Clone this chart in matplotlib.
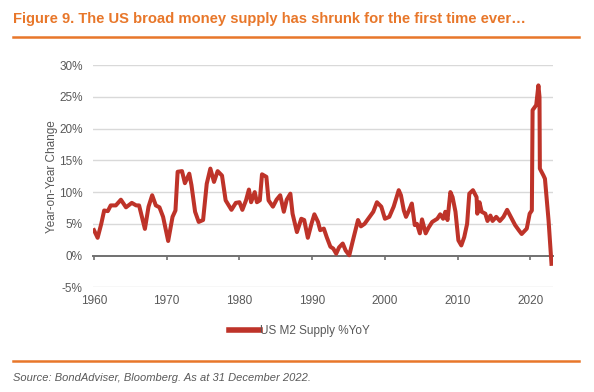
import matplotlib.pyplot as plt

plt.rcParams['font.family'] = ['Liberation Sans', 'DejaVu Sans']

# Data (decimal year, % YoY)
years = [
    1960.0, 1960.5, 1961.0, 1961.4, 1961.9, 1962.3, 1963.0, 1963.7, 1964.4, 1965.2,
    1965.8, 1966.2, 1966.7, 1967.0, 1967.5, 1968.0, 1968.5, 1969.0, 1969.5, 1970.2,
    1970.8, 1971.2, 1971.5, 1972.1, 1972.5, 1973.1, 1973.4, 1973.9, 1974.4, 1975.0,
    1975.5, 1976.0, 1976.5, 1977.0, 1977.6, 1978.1, 1978.9, 1979.5, 1980.0, 1980.4,
    1980.9, 1981.3, 1981.6, 1982.1, 1982.4, 1982.8, 1983.1, 1983.7, 1984.0, 1984.6,
    1985.1, 1985.6, 1986.1, 1986.5, 1987.0, 1987.3, 1987.9, 1988.5, 1988.9, 1989.4,
    1989.9, 1990.3, 1990.8, 1991.1, 1991.6, 1992.0, 1992.5, 1992.9, 1993.3, 1993.7,
    1994.2, 1994.6, 1995.1, 1995.6, 1996.3, 1996.7, 1997.2, 1997.7, 1998.4, 1998.9,
    1999.5, 2000.0, 2000.6, 2001.2, 2001.6, 2001.9, 2002.2, 2002.6, 2002.9, 2003.3,
    2003.7, 2004.1, 2004.4, 2004.8, 2005.1, 2005.6, 2006.0, 2006.5, 2007.2, 2007.6,
    2008.0, 2008.3, 2008.6, 2009.0, 2009.3, 2009.7, 2010.1, 2010.5, 2010.9, 2011.3,
    2011.6, 2012.1, 2012.6, 2012.7, 2013.0, 2013.3, 2013.8, 2014.1, 2014.5, 2014.8,
    2015.3, 2015.8, 2016.3, 2016.8, 2017.3, 2017.9, 2018.4, 2018.8, 2019.5, 2019.9,
    2020.2, 2020.3, 2020.8, 2021.1, 2021.25, 2021.3, 2021.8, 2022.0, 2022.5, 2022.9,
]
m2_yoy = [
    4.0, 2.8, 5.0, 7.1, 7.0, 7.9, 7.9, 8.8, 7.6, 8.3,
    7.9, 7.9, 5.6, 4.2, 7.7, 9.5, 7.9, 7.6, 6.1, 2.3,
    6.1, 7.1, 13.2, 13.3, 11.4, 12.9, 11.1, 6.9, 5.3, 5.6,
    11.3, 13.7, 11.6, 13.3, 12.6, 8.7, 7.2, 8.3, 8.4, 7.2,
    8.7, 10.4, 8.4, 10.0, 8.4, 8.7, 12.8, 12.4, 8.7, 7.7,
    8.8, 9.5, 6.9, 8.8, 9.75, 6.6, 3.7, 5.8, 5.6, 2.8,
    5.0, 6.5, 5.3, 4.0, 4.25, 2.9, 1.4, 1.1, 0.3, 1.3,
    1.9, 0.8, 0.05, 2.4, 5.6, 4.6, 5.0, 5.8, 6.9, 8.4,
    7.7, 5.8, 6.1, 7.7, 9.2, 10.3, 9.5, 7.1, 6.1, 7.1,
    8.2, 4.8, 5.0, 3.5, 5.7, 3.5, 4.4, 5.3, 5.8, 6.5,
    5.8, 6.9, 5.6, 10.0, 9.2, 6.9, 2.4, 1.6, 2.9, 5.0,
    9.75, 10.3, 9.2, 6.6, 8.4, 6.9, 6.6, 5.45, 6.3, 5.45,
    6.1, 5.45, 6.1, 7.2, 6.1, 4.8, 4.0, 3.4, 4.25, 6.6,
    7.1, 22.9, 23.7, 26.8, 25.0, 13.7, 12.6, 12.1, 5.5, -1.3,
]
year_ticks = [1960, 1970, 1980, 1990, 2000, 2010, 2020]
pct_ticks = [-5, 0, 5, 10, 15, 20, 25, 30]

orange = '#E8772A'
grey = '#595959'
red = '#BE3329'

fig = plt.figure(figsize=(5.94, 3.92), dpi=100)
ax = fig.add_axes([0.157, 0.267, 0.7745, 0.567])

for v in pct_ticks:
    if v != 0:
        ax.axhline(v, color='#D9D9D9', lw=1.0, zorder=1)

ax.plot(years, m2_yoy, color=red, lw=2.9, solid_joinstyle='round',
        label='US M2 Supply %YoY', zorder=3)

ax.set_xlim(1959.9, 2023.15)
ax.set_ylim(-5, 30)
ax.set_yticks(pct_ticks)
ax.set_yticklabels([f'{v}%' for v in pct_ticks])
ax.set_xticks(year_ticks)

for s in ['top', 'right', 'left']:
    ax.spines[s].set_visible(False)
ax.spines['bottom'].set_position(('data', 0))
ax.spines['bottom'].set_color('#707070')
ax.spines['bottom'].set_linewidth(1.4)
ax.spines['bottom'].set_zorder(2)

ax.tick_params(axis='y', length=0, pad=7.5, labelsize=8.5, labelcolor=grey)
ax.tick_params(axis='x', length=3.2, width=1.2, color='#707070', direction='out',
               pad=25.5, labelsize=8.5, labelcolor=grey)

ax.set_ylabel('Year-on-Year Change', fontsize=8.5, color=grey, labelpad=1)

leg = ax.legend(loc='upper center', bbox_to_anchor=(0.448, -0.148), frameon=False,
                fontsize=8.5, handlelength=2.6, handletextpad=0.0, borderaxespad=0)
for t in leg.get_texts():
    t.set_color(grey)
for h in leg.get_lines():
    h.set_linewidth(4)

fig.text(13 / 594, 1 - 19 / 392, 'Figure 9. The US broad money supply has shrunk for the first time ever\u2026',
         fontsize=10.6, fontweight='bold', color=orange, va='center', ha='left')
fig.add_artist(plt.Line2D([13 / 594, 579 / 594], [1 - 36.7 / 392] * 2, color=orange, lw=1.8))
fig.add_artist(plt.Line2D([13 / 594, 579 / 594], [1 - 360.7 / 392] * 2, color=orange, lw=1.8))
fig.text(13 / 594, 1 - 378 / 392, 'Source: BondAdviser, Bloomberg. As at 31 December 2022.',
         fontsize=8, style='italic', color=grey, va='center', ha='left')

fig.savefig('out.png', dpi=100)
